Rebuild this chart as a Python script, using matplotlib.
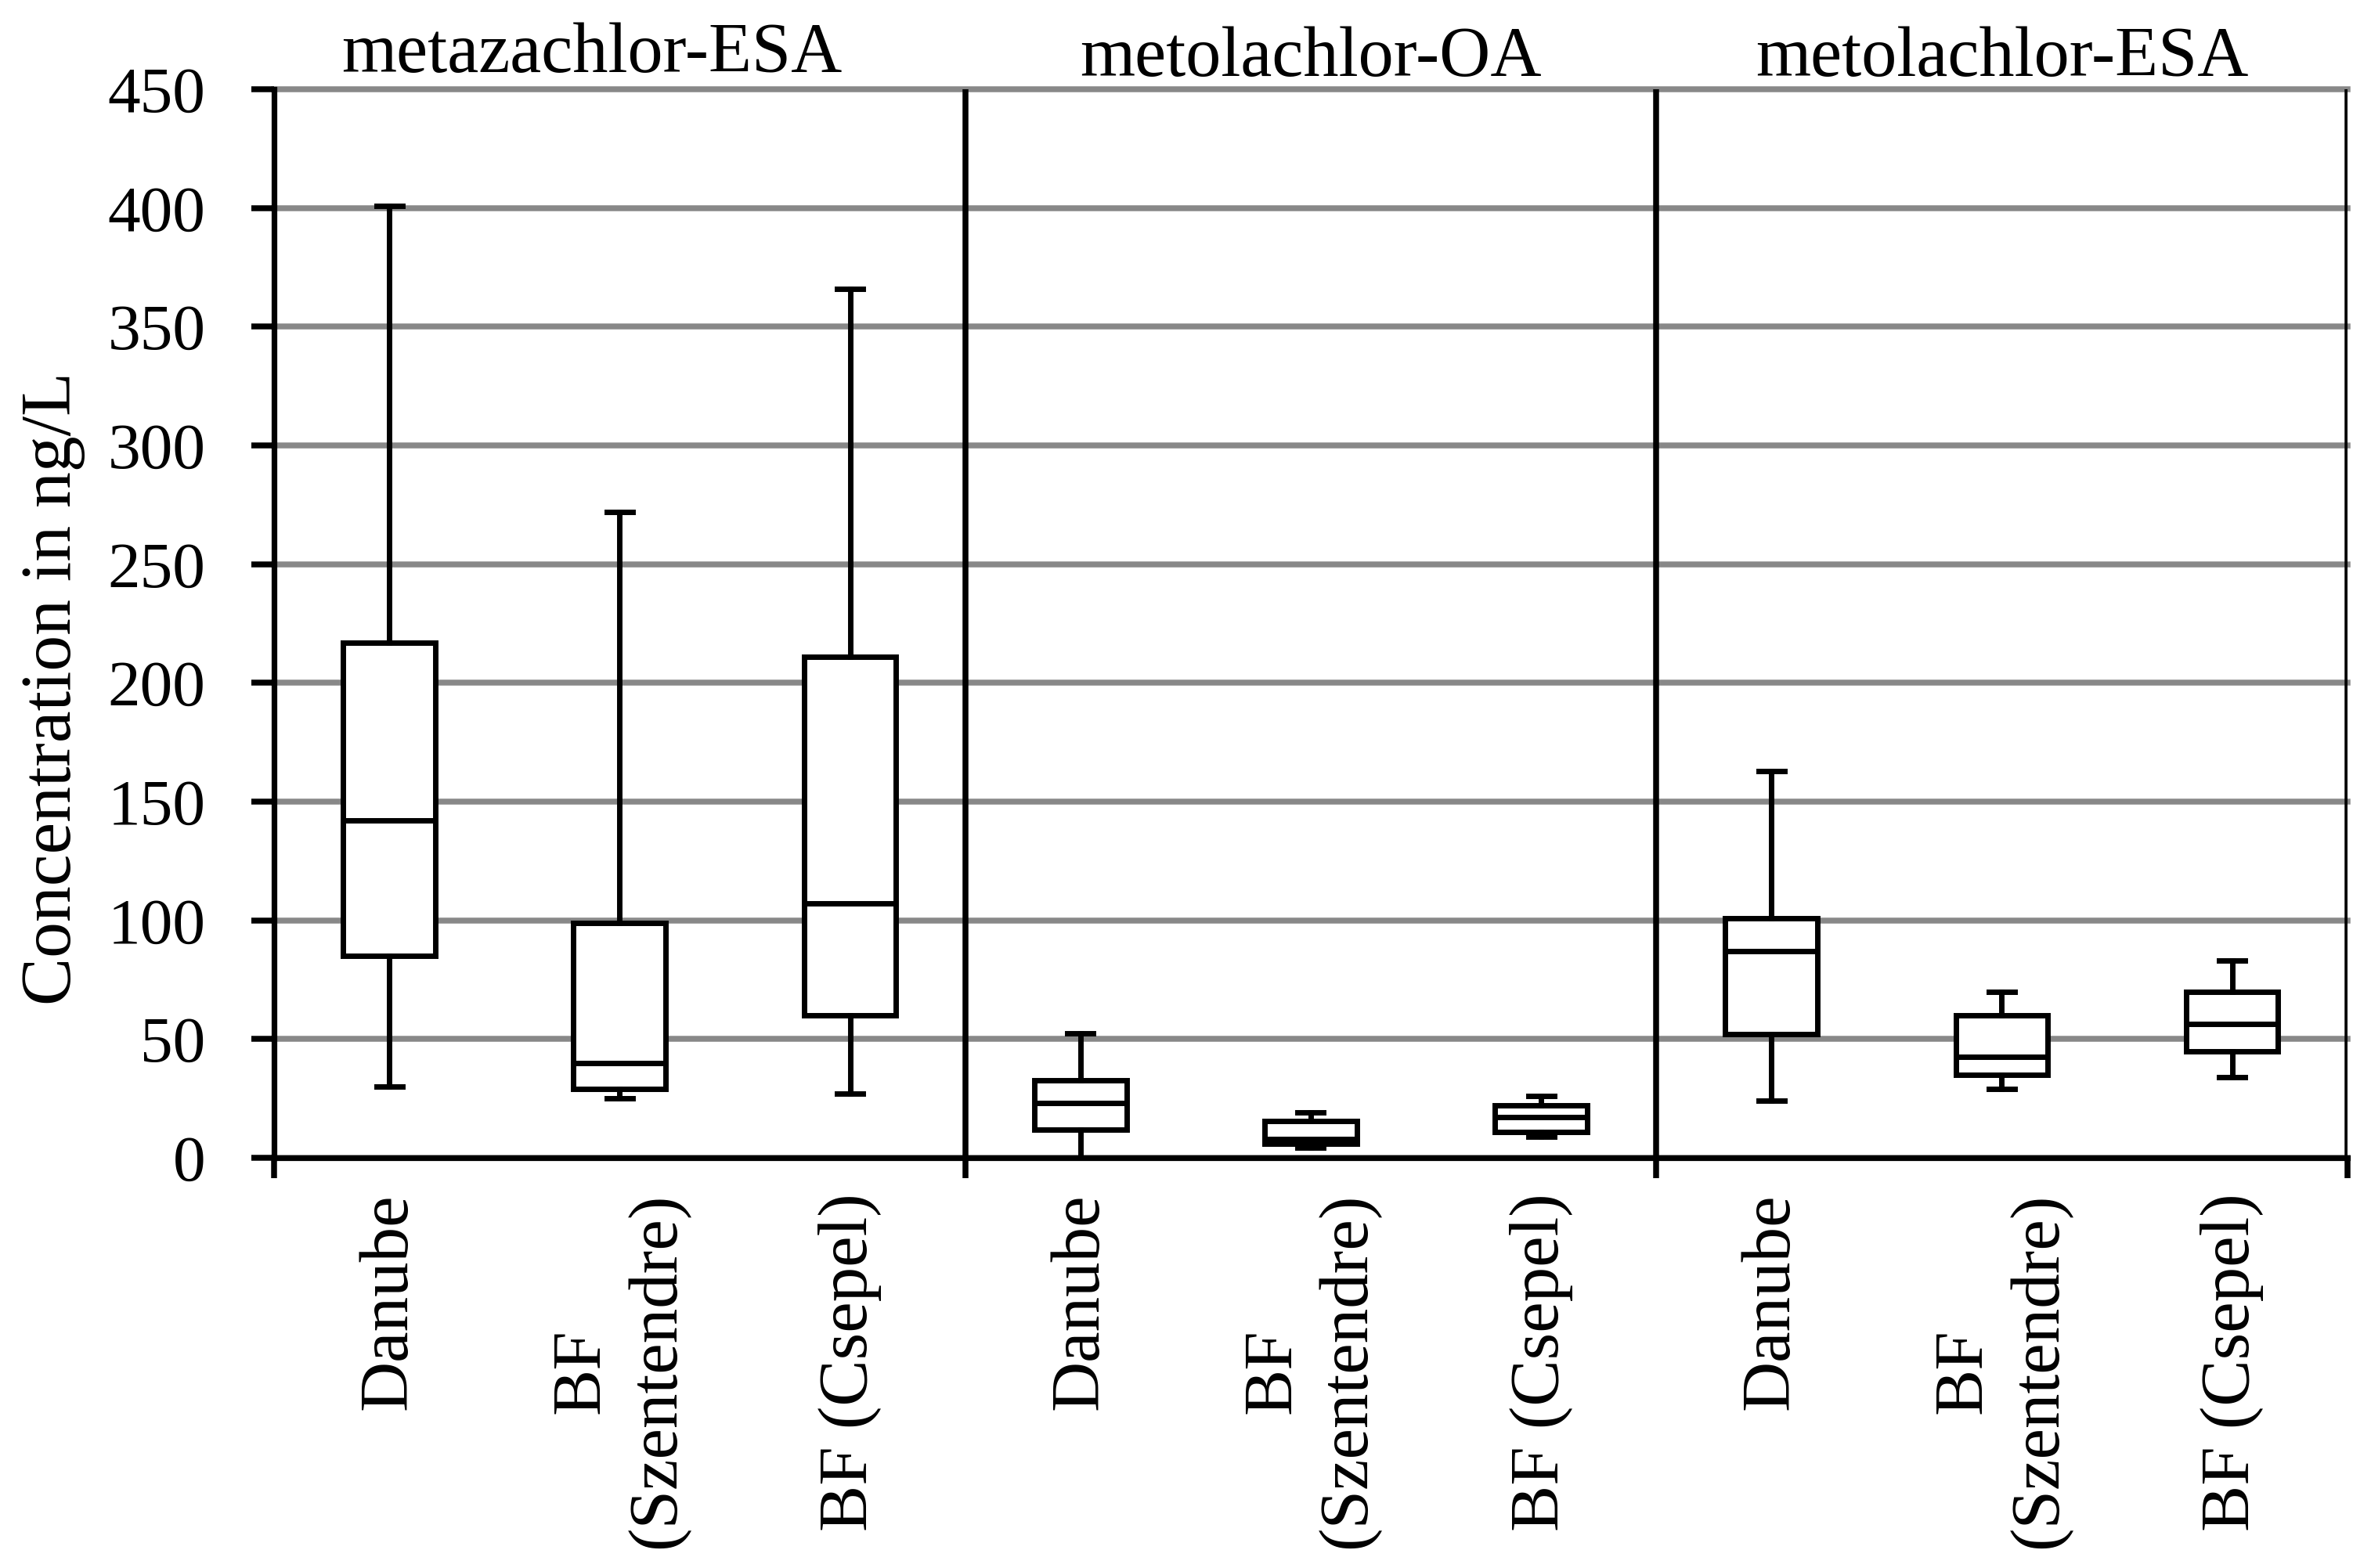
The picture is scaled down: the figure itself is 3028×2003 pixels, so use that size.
import matplotlib.pyplot as plt

plt.rcParams['font.family'] = ['Liberation Serif', 'DejaVu Serif']

compounds = ['metazachlor-ESA', 'metolachlor-OA', 'metolachlor-ESA']
sites = ['Danube', 'BF\n(Szentendre)', 'BF (Csepel)']

# five-number summaries per box (ng/L)
whis_low = [30, 25, 27, 0, 4.3, 8.8, 24, 29, 34]
q1 = [85, 29, 60, 12, 6, 11, 52, 35, 45]
median = [142, 40, 107, 23, 8, 17, 87, 42.5, 56.5]
q3 = [217, 99, 211, 32.5, 15.5, 22, 101, 60, 70]
whis_high = [401, 272, 366, 52.5, 19, 26, 163, 70, 83]

yticks = list(range(0, 451, 50))

fig = plt.figure(figsize=(15.14, 10.015), dpi=200)
ax = fig.add_axes([0.1156, 0.2616, 0.8744, 0.6814])

stats = []
for i in range(len(median)):
    stats.append(dict(whislo=whis_low[i], q1=q1[i], med=median[i],
                      q3=q3[i], whishi=whis_high[i], fliers=[]))

pos = list(range(1, len(stats) + 1))
lw = 2.5
ax.bxp(stats, positions=pos, widths=0.40, capwidths=0.112,
       patch_artist=True, showfliers=False,
       boxprops=dict(facecolor='white', edgecolor='black', linewidth=lw),
       medianprops=dict(color='black', linewidth=lw),
       whiskerprops=dict(color='black', linewidth=lw),
       capprops=dict(color='black', linewidth=lw), zorder=3)

ax.set_xlim(0.5, 9.5)
ax.set_ylim(0, 450)
ax.set_yticks(yticks)
ax.yaxis.grid(True, color='#888888', linewidth=2.7, zorder=0)
for gl in ax.get_ygridlines():
    gl.set_clip_on(False)
ax.set_axisbelow(True)

# group separators
for x in [3.5, 6.5, 9.5]:
    ax.axvline(x, color='black', linewidth=2.7, zorder=4)

ax.set_xticks([0.5, 3.5, 6.5, 9.5])
ax.set_xticklabels([])
ax.tick_params(axis='x', direction='out', length=9.4, width=2.7)
ax.tick_params(axis='y', direction='out', length=10.5, width=2.7,
               labelsize=30, pad=21)

for s in ['top', 'right']:
    ax.spines[s].set_visible(False)
ax.spines['left'].set_linewidth(2.6)
ax.spines['bottom'].set_linewidth(2.6)
ax.spines['bottom'].set_zorder(5)

for k, name in enumerate(sites * 3):
    ax.text(pos[k], -0.033, name, transform=ax.get_xaxis_transform(),
            rotation=90, ha='center', va='top', multialignment='center',
            linespacing=1.25, fontsize=32)

title_x = [1.88, 5.0, 8.0]
title_y = [0.954, 0.9516, 0.9516]
for g, c in enumerate(compounds):
    xf = fig.transFigure.inverted().transform(ax.transData.transform((title_x[g], 0)))[0]
    fig.text(xf, title_y[g], c, ha='center', va='baseline', fontsize=32.5)

fig.text(0.0225, 0.561, 'Concentration in ng/L', rotation=90,
         ha='center', va='center', fontsize=33)

fig.savefig('out.png', dpi=200)
